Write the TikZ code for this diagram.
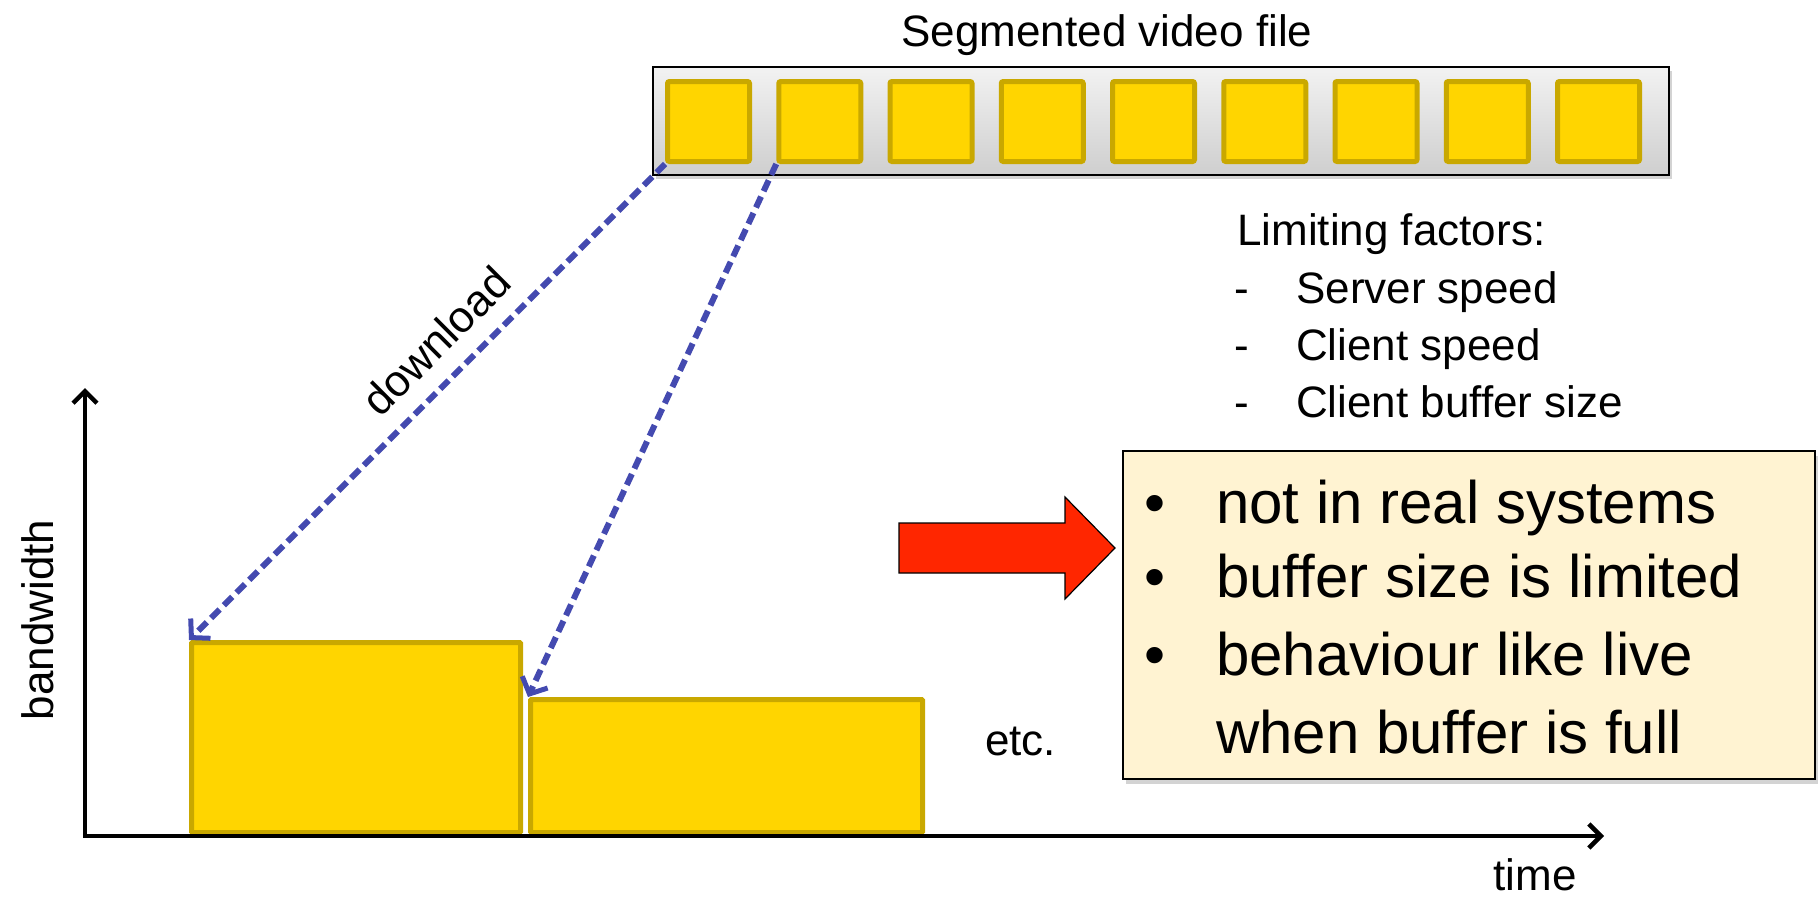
\documentclass[tikz,border=0pt]{standalone}
\usepackage{fontspec}
\setmainfont{Liberation Sans}
\usetikzlibrary{arrows.meta,shadows}
\definecolor{gold}{HTML}{FFD500}
\definecolor{goldline}{HTML}{C9A800}
\definecolor{dlblue}{HTML}{444AB0}
\definecolor{redarrow}{HTML}{FF2600}
\definecolor{cream}{HTML}{FFF3D2}
\newcommand\labf{\fontsize{44}{52}\selectfont}
\newcommand\bulf{\fontsize{60}{72}\selectfont}
\begin{document}
\begin{tikzpicture}[x=1pt,y=-1pt,
  seg/.style={draw=goldline, fill=gold, line width=5pt, rounded corners=2pt,
    minimum width=82pt, minimum height=80pt, inner sep=0pt, anchor=north west},
  bwrect/.style={draw=goldline, fill=gold, line width=5pt, rounded corners=1pt,
    inner sep=0pt, anchor=north west},
  barbox/.style={draw=black, line width=2pt, top color=gray!10, bottom color=gray!38,
    minimum width=1016pt, minimum height=108pt, inner sep=0pt, anchor=north west,
    drop shadow={shadow xshift=3pt, shadow yshift=-4pt, opacity=0.35}},
  notebox/.style={draw=black, line width=2pt, fill=cream,
    minimum width=692pt, minimum height=328pt, inner sep=0pt, anchor=north west,
    drop shadow={shadow xshift=3pt, shadow yshift=-5pt, opacity=0.35}},
  dl/.style={draw=dlblue, line width=6pt, dash pattern=on 12pt off 6pt,
    -{Straight Barb[length=13pt,width=28pt,line width=5pt]}},
  axis/.style={draw=black, line width=4.5pt,
    -{Straight Barb[length=12pt,width=24pt,line width=4.5pt]}},
  lab/.style={font=\labf, inner sep=0pt},
  bul/.style={font=\bulf, inner sep=0pt, anchor=base west}
]
\useasboundingbox (0,0) rectangle (1818,898);

% segmented file
\node[lab, anchor=base] (title) at (1107,46) {Segmented video file};
\node[barbox] (bar) at (652,66) {};
\foreach \i in {1,...,9} {
  \node[seg] (s\i) at ({665+111.25*(\i-1)},79) {};
}

% bandwidth blocks
\node[bwrect, minimum width=329pt, minimum height=190pt] (r1) at (189,640) {};
\node[bwrect, minimum width=392pt, minimum height=133pt] (r2) at (528,697) {};

% axes
\coordinate (o) at (85,836);
\coordinate (ytip) at (85,388);
\coordinate (xtip) at (1604,836);
\draw[axis] (o) -- (ytip);
\draw[axis] ([xshift=-2.25pt]o) -- (xtip);

% download arrows
\draw[dl] (s1.south west) -- (r1.north west);
\draw[dl] (s2.south west) -- (r2.north west);
\node[lab, rotate=45] (dltext) at (436,341) {download};

% labels
\node[lab, rotate=90] (bw) at (38,620) {bandwidth};
\node[lab, anchor=base] (time) at (1535,890) {time};
\node[lab, anchor=base west] (etc) at (985,755) {etc.};

% limiting factors
\node[lab, anchor=base west] (lf) at (1237,245) {Limiting factors:};
\node[lab, anchor=base west] (d1) at (1234,303) {-};
\node[lab, anchor=base west] (d2) at (1234,360) {-};
\node[lab, anchor=base west] (d3) at (1234,417) {-};
\node[lab, anchor=base west] (f1) at (1296,303) {Server speed};
\node[lab, anchor=base west] (f2) at (1296,360) {Client speed};
\node[lab, anchor=base west] (f3) at (1296,417) {Client buffer size};

% red block arrow
\filldraw[fill=redarrow, draw=black, line width=1.2pt]
  (899,523) -- (1065,523) -- (1065,497) -- (1115,548) -- (1065,599)
  -- (1065,573) -- (899,573) -- cycle;

% note box
\node[notebox] (box) at (1122,450) {};
\node[bul] (b1) at (1144,523) {•};
\node[bul] (b2) at (1144,597) {•};
\node[bul] (b3) at (1144,675) {•};
\node[bul] (t1) at (1216,523) {not in real systems};
\node[bul] (t2) at (1216,597) {buffer size is limited};
\node[bul] (t3) at (1216,675) {behaviour like live};
\node[bul] (t4) at (1216,753) {when buffer is full};
\end{tikzpicture}
\end{document}
